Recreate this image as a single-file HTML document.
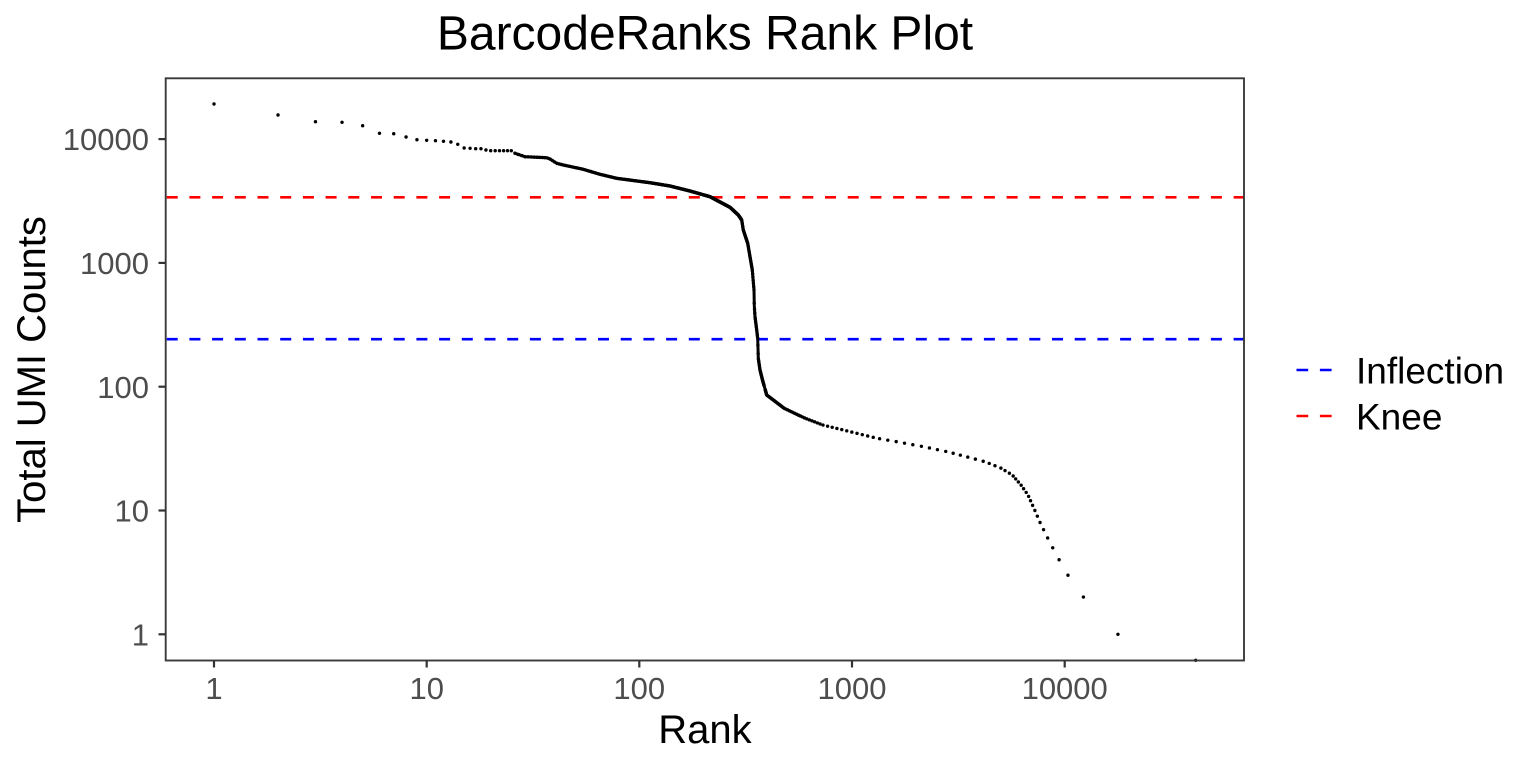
<!DOCTYPE html>
<html>
<head>
<meta charset="utf-8">
<style>
  html, body { margin: 0; padding: 0; background: #ffffff; }
  body { width: 1536px; height: 768px; overflow: hidden; }
  svg { display: block; }
  text { font-family: "Liberation Sans", Arial, sans-serif; }
</style>
</head>
<body>
<svg id="chart" width="1536" height="768" viewBox="0 0 1536 768" xmlns="http://www.w3.org/2000/svg">
  <rect x="0" y="0" width="1536" height="768" fill="#ffffff"/>
  <defs>
    <clipPath id="panel">
      <rect x="165.7" y="78.3" width="1078.3" height="582.2"/>
    </clipPath>
  </defs>

  <!-- Title -->
  <text x="705" y="49.5" font-size="48" text-anchor="middle" fill="#000">BarcodeRanks Rank Plot</text>

  <!-- reference lines -->
  <g clip-path="url(#panel)">
    <line x1="166.7" y1="197.3" x2="1244" y2="197.3" stroke="#ff0000" stroke-width="2.6" stroke-dasharray="11 11.7"/>
    <line x1="166.7" y1="339.2" x2="1244" y2="339.2" stroke="#0000ff" stroke-width="2.6" stroke-dasharray="11 11.7"/>
  </g>

  <!-- dense part of curve -->
  <polyline id="fallback" fill="none" stroke="#000" stroke-width="3" stroke-linejoin="round"
    points="515,153.3 525,156.7 546.7,157.7 550,159 556.7,163.3 563.3,165 583.3,169.3 600,174.3 616.7,178.3 650,182.7 670,186 690,191 710,196.7 730,207.3 738.3,215 741.7,220 743.3,230 747.7,243.3 750,256.7 752.3,270 754,290 754.3,305.7 755,316.7 756.7,330 757.7,338.3 758.3,358.3 760,370 762.5,380 766.7,395 784.2,408.3 800,416"/>

  <g id="pts" fill="#000"></g>

  <!-- zero-count point on the bottom edge -->
  <circle cx="1195.7" cy="660.3" r="1.7" fill="#000"/>

  <!-- panel border -->
  <rect x="165.7" y="78.3" width="1078.3" height="582.2" fill="none" stroke="#3a3a3a" stroke-width="1.9"/>

  <!-- y ticks -->
  <g stroke="#333333" stroke-width="2.2">
    <line x1="158.5" y1="139.1" x2="165.7" y2="139.1"/>
    <line x1="158.5" y1="262.9" x2="165.7" y2="262.9"/>
    <line x1="158.5" y1="386.7" x2="165.7" y2="386.7"/>
    <line x1="158.5" y1="510.5" x2="165.7" y2="510.5"/>
    <line x1="158.5" y1="634.3" x2="165.7" y2="634.3"/>
  </g>
  <g font-size="31" fill="#4d4d4d" text-anchor="end">
    <text x="149" y="150.2">10000</text>
    <text x="149" y="274">1000</text>
    <text x="149" y="397.8">100</text>
    <text x="149" y="521.6">10</text>
    <text x="149" y="645.4">1</text>
  </g>

  <!-- x ticks -->
  <g stroke="#333333" stroke-width="2.2">
    <line x1="214" y1="660.5" x2="214" y2="667.5"/>
    <line x1="426.7" y1="660.5" x2="426.7" y2="667.5"/>
    <line x1="639.3" y1="660.5" x2="639.3" y2="667.5"/>
    <line x1="852" y1="660.5" x2="852" y2="667.5"/>
    <line x1="1064.7" y1="660.5" x2="1064.7" y2="667.5"/>
  </g>
  <g font-size="31" fill="#4d4d4d" text-anchor="middle">
    <text x="214" y="699">1</text>
    <text x="426.7" y="699">10</text>
    <text x="639.3" y="699">100</text>
    <text x="852" y="699">1000</text>
    <text x="1064.7" y="699">10000</text>
  </g>

  <!-- axis titles -->
  <text x="705" y="743" font-size="40" text-anchor="middle" fill="#000">Rank</text>
  <text transform="translate(45,369.5) rotate(-90)" x="0" y="0" font-size="40" text-anchor="middle" fill="#000">Total UMI Counts</text>

  <!-- legend -->
  <line x1="1296.5" y1="370" x2="1332" y2="370" stroke="#0000ff" stroke-width="2.6" stroke-dasharray="11.7 11.7"/>
  <line x1="1296.5" y1="416" x2="1332" y2="416" stroke="#ff0000" stroke-width="2.6" stroke-dasharray="11.7 11.7"/>
  <text x="1356" y="383.3" font-size="37" fill="#000">Inflection</text>
  <text x="1356" y="429.3" font-size="37" fill="#000">Knee</text>
</svg>

<script>
(function(){
  var NS = "http://www.w3.org/2000/svg";
  var g = document.getElementById("pts");
  function X(r){ return 214 + 212.67*Math.log10(r); }
  function Yc(c){ return 634.3 - 123.8*Math.log10(c); }
  function dot(x,y){
    var c = document.createElementNS(NS,"circle");
    c.setAttribute("cx", x.toFixed(2));
    c.setAttribute("cy", y.toFixed(2));
    c.setAttribute("r", "1.7");
    g.appendChild(c);
  }
  var lm = [[511.3,150.7],[515,153.3],[525,156.7],[546.7,157.7],[550,159],[556.7,163.3],[563.3,165],[583.3,169.3],[600,174.3],[616.7,178.3],[650,182.7],[670,186],[690,191],[710,196.7],[730,207.3],[738.3,215],[741.7,220],[743.3,230],[747.7,243.3],[750,256.7],[752.3,270],[754,290],[754.3,305.7],[755,316.7],[756.7,330],[757.7,338.3],[758.3,358.3],[760,370],[762.5,380],[766.7,395],[784.2,408.3],[805.3,418.3],[822.8,425],[840.4,429.3],[854.4,432.7],[877.2,438.3],[900,442.3],[923.5,446.7],[948.4,452],[971.2,458],[984.9,461.7],[1000.7,468],[1012.3,475],[1021,485],[1028,495],[1035.1,511],[1040.4,523.3],[1048,538.7],[1053,548.3],[1059.6,560.7],[1068.4,576],[1083.9,597.7],[1118.6,635]];
  function yAtX(x){
    for (var i=0;i<lm.length-1;i++){
      var a=lm[i], b=lm[i+1];
      if (x>=a[0] && x<=b[0]){ var t=(x-a[0])/(b[0]-a[0]||1); return a[1]+t*(b[1]-a[1]); }
    }
    return lm[lm.length-1][1];
  }
  function xAtY(y){
    for (var i=0;i<lm.length-1;i++){
      var a=lm[i], b=lm[i+1];
      if (y>=a[1] && y<=b[1]){ var t=(y-a[1])/(b[1]-a[1]||1); return a[0]+t*(b[0]-a[0]); }
    }
    return lm[lm.length-1][0];
  }
  var first = [104,115,121.7,122.3,125.7,133.3,133.7,137,139.7,140.3,140.7,141.3,142,144.3,148,148.3,148.7,148.7,150,150.7,150.7,150.7,150.7,150.7,150.7];
  for (var r=1;r<=first.length;r++) dot(X(r), first[r-1]);
  for (var r=26;r<=400;r++){
    var x = X(r);
    var y = yAtX(x);
    if (y > 386) break;
    dot(x,y);
  }
  for (var c=1;c<=95;c++){
    var y = Yc(c);
    if (y < 378) continue;
    dot(xAtY(y), y);
  }
})();
</script>
</body>
</html>
